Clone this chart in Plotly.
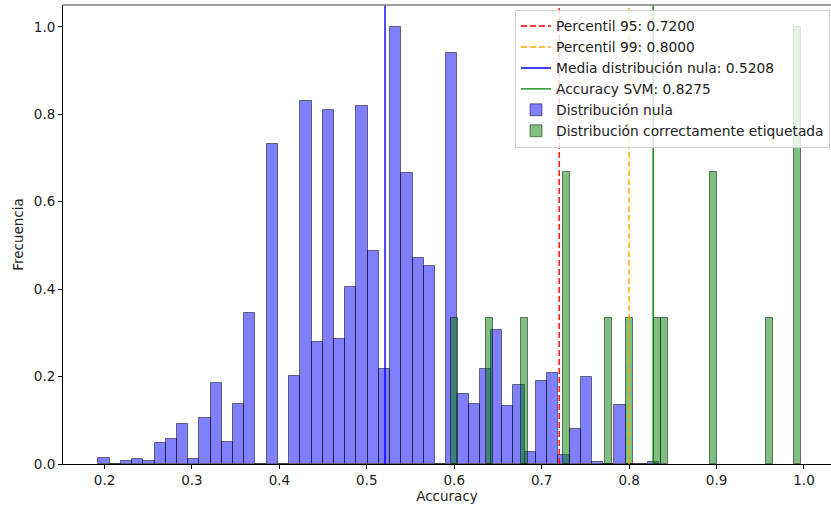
import plotly.graph_objects as go

# ---- data ----
null_bin_start = 0.193
null_bin_width = 0.01283
null_heights = [0.014, 0.0, 0.006, 0.011, 0.006, 0.047, 0.058, 0.092, 0.011, 0.105,
                0.186, 0.050, 0.137, 0.346, 0.0, 0.732, 0.0, 0.202, 0.831, 0.279,
                0.810, 0.286, 0.405, 0.818, 0.487, 0.218, 1.0, 0.666, 0.471, 0.453,
                0.0, 0.940, 0.160, 0.137, 0.218, 0.307, 0.132, 0.180, 0.027, 0.191,
                0.209, 0.020, 0.081, 0.198, 0.004, 0.0, 0.136, 0.0, 0.0, 0.005]

true_bin_start = 0.5965
true_bin_width = 0.008
true_bin_index = [0, 5, 10, 16, 22, 25, 29, 30, 37, 45, 49]
true_heights = [0.333, 0.333, 0.333, 0.667, 0.333, 0.333, 0.333, 0.333, 0.667, 0.333, 1.0]

p95 = 0.72
p99 = 0.80
null_mean = 0.5208
svm_acc = 0.8275

x_ticks = [0.2, 0.3, 0.4, 0.5, 0.6, 0.7, 0.8, 0.9, 1.0]
y_ticks = [0.0, 0.2, 0.4, 0.6, 0.8, 1.0]

FONT = "DejaVu Sans"
FS = 13.5
LFS = 13.8

null_x = [null_bin_start + (i + 0.5) * null_bin_width for i in range(len(null_heights))]
true_x = [true_bin_start + (i + 0.5) * true_bin_width for i in true_bin_index]

fig = go.Figure()
fig.add_trace(go.Bar(
    x=null_x, y=null_heights, width=null_bin_width,
    marker=dict(color="rgba(0,0,255,0.5)", line=dict(color="rgba(0,0,0,0.5)", width=1)),
    name="Distribución nula", legendrank=5))
fig.add_trace(go.Bar(
    x=true_x, y=true_heights, width=true_bin_width,
    marker=dict(color="rgba(0,128,0,0.5)", line=dict(color="rgba(0,0,0,0.5)", width=1)),
    name="Distribución correctamente etiquetada", legendrank=6))

YTOP = 1.05
lines = [
    (p95, "red", "6px,3px", f"Percentil 95: {p95:.4f}", 1),
    (p99, "orange", "6px,3px", f"Percentil 99: {p99:.4f}", 2),
    (null_mean, "blue", "solid", f"Media distribución nula: {null_mean:.4f}", 3),
    (svm_acc, "green", "solid", f"Accuracy SVM: {svm_acc:.4f}", 4),
]
for xv, col, dash, name, rank in lines:
    fig.add_trace(go.Scatter(
        x=[xv, xv], y=[0, YTOP], mode="lines",
        line=dict(color=col, width=1.4, dash=dash),
        name=name, legendrank=rank))

fig.update_layout(
    width=831, height=510,
    margin=dict(l=63, r=0, t=5, b=46),
    plot_bgcolor="white", paper_bgcolor="white",
    barmode="overlay", bargap=0,
    font=dict(family=FONT, size=FS, color="#222"),
    showlegend=True,
    legend=dict(
        x=0.9987, y=0.99, xanchor="right", yanchor="top",
        bgcolor="rgba(255,255,255,0.8)", bordercolor="#d0d0d0", borderwidth=1,
        font=dict(family=FONT, size=LFS, color="#222"),
        traceorder="normal",
    ),
    xaxis=dict(
        range=[0.1525, 1.0309], tickvals=x_ticks, tickformat=".1f",
        showline=True, linecolor="black", linewidth=1,
        ticks="outside", ticklen=4, tickcolor="black",
        showgrid=False, zeroline=False,
        title=dict(text="Accuracy", font=dict(family=FONT, size=FS), standoff=3),
    ),
    yaxis=dict(
        range=[0, YTOP], tickvals=y_ticks, tickformat=".1f",
        showline=True, linecolor="black", linewidth=1,
        ticks="outside", ticklen=4, tickcolor="black",
        showgrid=False, zeroline=False,
        title=dict(text="Frecuencia", font=dict(family=FONT, size=FS), standoff=7),
    ),
    shapes=[dict(type="line", xref="paper", yref="paper", x0=0, x1=1, y0=1, y1=1,
                 line=dict(color="#808080", width=1.5))],
)

fig.write_html("out.html")
